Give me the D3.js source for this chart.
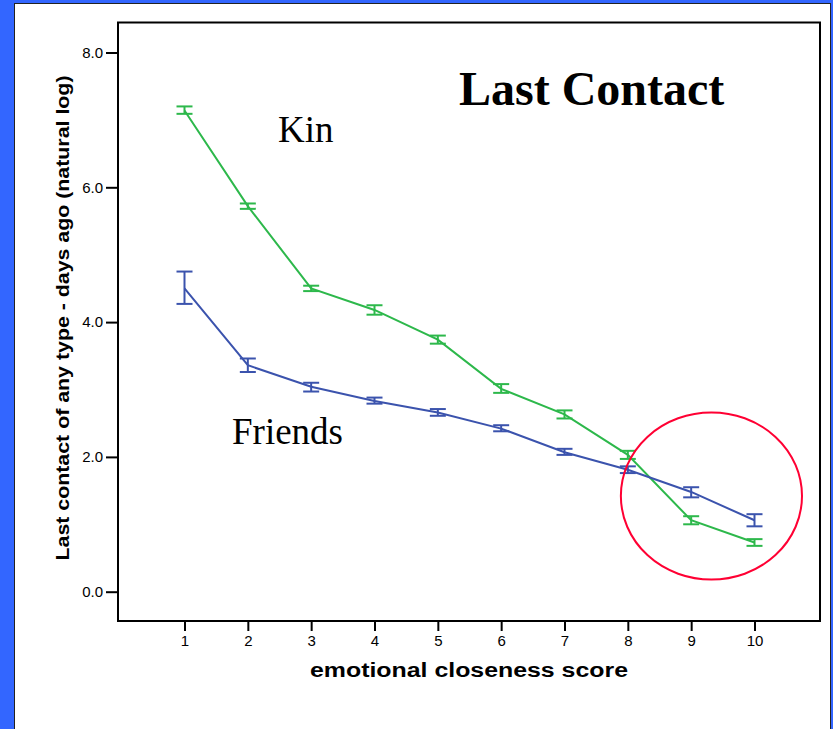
<!DOCTYPE html>
<html>
<head>
<meta charset="utf-8">
<script src="https://cdn.jsdelivr.net/npm/d3@7"></script>
<style>
    body { margin: 0; background: #3366ff; }
    #chart-area { width: 833px; height: 729px; }
</style>
</head>
<body>
<div id="chart-area"></div>
<script>
/* * * * * * * * * * * * * * * * * *
 *      Last contact line chart     *
 * * * * * * * * * * * * * * * * * */

// emotional closeness score (x categories)
let categories = [1, 2, 3, 4, 5, 6, 7, 8, 9, 10];

// Kin: mean and error bar ends (natural log of days)
let kinMean = [7.14, 5.72, 4.50, 4.18, 3.74, 3.01, 2.63, 2.03, 1.06, 0.73];
let kinLow  = [7.09, 5.68, 4.46, 4.11, 3.68, 2.95, 2.57, 1.97, 1.00, 0.68];
let kinHigh = [7.20, 5.76, 4.54, 4.25, 3.80, 3.08, 2.69, 2.09, 1.12, 0.78];

// Friends: mean and error bar ends
let friendsMean = [4.50, 3.36, 3.04, 2.83, 2.66, 2.42, 2.07, 1.81, 1.48, 1.06];
let friendsLow  = [4.27, 3.26, 2.97, 2.79, 2.61, 2.38, 2.03, 1.76, 1.40, 0.97];
let friendsHigh = [4.75, 3.46, 3.10, 2.88, 2.71, 2.47, 2.12, 1.86, 1.55, 1.15];

let yTicks = [0, 2, 4, 6, 8];

// red ring drawn round the crossing (centre and radii in data units)
let ringCentre = [9.32, 1.42];
let ringRadius = [1.43, 1.24];


class LastContactChart {

    constructor(parentElement) {
        this.parentElement = parentElement;
        this.initVis();
    }

    initVis() {
        let vis = this;

        vis.width = 833;
        vis.height = 729;

        vis.svg = d3.select("#" + vis.parentElement).append("svg")
            .attr("width", vis.width)
            .attr("height", vis.height);

        // white slide panel on blue background
        vis.svg.append("rect")
            .attr("x", 14.5)
            .attr("y", 3.5)
            .attr("width", 816)
            .attr("height", 740)
            .attr("fill", "#fff")
            .attr("stroke", "#222")
            .attr("stroke-width", 1);

        // plot frame
        vis.frame = {left: 118, right: 820, top: 22.5, bottom: 621};

        vis.x = d3.scaleLinear()
            .domain([-0.05, 11.05])
            .range([vis.frame.left, vis.frame.right + 1]);
        vis.y = d3.scaleLinear()
            .domain([0, 8])
            .range([591.7, 52.5]);

        vis.g = vis.svg.append("g");

        vis.wrangleData();
    }

    wrangleData() {
        let vis = this;

        vis.series = [
            {name: "Kin", color: "#2db84b",
             values: categories.map((c, i) => ({x: c, m: kinMean[i], lo: kinLow[i], hi: kinHigh[i]}))},
            {name: "Friends", color: "#3b53ad",
             values: categories.map((c, i) => ({x: c, m: friendsMean[i], lo: friendsLow[i], hi: friendsHigh[i]}))}
        ];

        vis.updateVis();
    }

    updateVis() {
        let vis = this;
        let f = vis.frame;

        // Axes
        let xAxis = d3.axisBottom(vis.x)
            .tickValues(categories)
            .tickSize(10)
            .tickSizeOuter(0)
            .tickPadding(4)
            .tickFormat(d3.format("d"));
        let yAxis = d3.axisLeft(vis.y)
            .tickValues(yTicks)
            .tickSize(12)
            .tickSizeOuter(0)
            .tickPadding(3)
            .tickFormat(d3.format(".1f"));

        let gx = vis.g.append("g")
            .attr("transform", `translate(0, ${f.bottom})`)
            .call(xAxis);
        let gy = vis.g.append("g")
            .attr("transform", `translate(${f.left}, 0)`)
            .call(yAxis);

        [gx, gy].forEach((a) => {
            a.select(".domain").remove();
            a.selectAll("line").attr("stroke", "#000").attr("stroke-width", 2);
            a.selectAll("text")
                .attr("fill", "#000")
                .style("font-family", "'Liberation Sans', Arial, sans-serif")
                .style("font-size", "15px");
        });

        // Frame
        vis.g.append("rect")
            .attr("x", f.left)
            .attr("y", f.top)
            .attr("width", f.right - f.left)
            .attr("height", f.bottom - f.top)
            .attr("fill", "none")
            .attr("stroke", "#000")
            .attr("stroke-width", 2);

        // Axis titles
        vis.g.append("text")
            .attr("x", (f.left + f.right) / 2)
            .attr("y", 677)
            .attr("text-anchor", "middle")
            .attr("textLength", 318)
            .attr("lengthAdjust", "spacingAndGlyphs")
            .style("font-family", "'Liberation Sans', Arial, sans-serif")
            .style("font-weight", "bold")
            .style("font-size", "20px")
            .text("emotional closeness score");

        vis.g.append("text")
            .attr("transform", `translate(69, 318) rotate(-90)`)
            .attr("text-anchor", "middle")
            .attr("textLength", 485)
            .attr("lengthAdjust", "spacingAndGlyphs")
            .style("font-family", "'Liberation Sans', Arial, sans-serif")
            .style("font-weight", "bold")
            .style("font-size", "19px")
            .text("Last contact of any type - days ago (natural log)");

        // Lines
        let line = d3.line()
            .x((d) => vis.x(d.x))
            .y((d) => vis.y(d.m));

        let groups = vis.g.selectAll(".series")
            .data(vis.series)
            .enter()
            .append("g")
            .attr("class", "series");

        groups.append("path")
            .attr("d", (d) => line(d.values))
            .attr("fill", "none")
            .attr("stroke", (d) => d.color)
            .attr("stroke-width", 2);

        // Error bars
        groups.each(function(s) {
            let eb = d3.select(this).selectAll(".errbar")
                .data(s.values)
                .enter()
                .append("g")
                .attr("class", "errbar")
                .attr("stroke", s.color)
                .attr("stroke-width", 2);

            eb.append("line")
                .attr("x1", (d) => vis.x(d.x))
                .attr("x2", (d) => vis.x(d.x))
                .attr("y1", (d) => vis.y(d.lo))
                .attr("y2", (d) => vis.y(d.hi));
            eb.append("line")
                .attr("x1", (d) => vis.x(d.x) - 8)
                .attr("x2", (d) => vis.x(d.x) + 8)
                .attr("y1", (d) => vis.y(d.hi))
                .attr("y2", (d) => vis.y(d.hi));
            eb.append("line")
                .attr("x1", (d) => vis.x(d.x) - 8)
                .attr("x2", (d) => vis.x(d.x) + 8)
                .attr("y1", (d) => vis.y(d.lo))
                .attr("y2", (d) => vis.y(d.lo));
        });

        // Red ring
        vis.g.append("ellipse")
            .attr("cx", vis.x(ringCentre[0]))
            .attr("cy", vis.y(ringCentre[1]))
            .attr("rx", vis.x(ringCentre[0] + ringRadius[0]) - vis.x(ringCentre[0]))
            .attr("ry", vis.y(ringCentre[1]) - vis.y(ringCentre[1] + ringRadius[1]))
            .attr("fill", "none")
            .attr("stroke", "#ff0033")
            .attr("stroke-width", 2);

        // Slide labels
        let serif = "'Liberation Serif', 'Times New Roman', serif";
        vis.g.append("text")
            .attr("x", 459)
            .attr("y", 105)
            .style("font-family", serif)
            .style("font-weight", "bold")
            .style("font-size", "48px")
            .text("Last Contact");
        vis.g.append("text")
            .attr("x", 278)
            .attr("y", 142)
            .style("font-family", serif)
            .style("font-size", "37px")
            .text("Kin");
        vis.g.append("text")
            .attr("x", 232)
            .attr("y", 444)
            .style("font-family", serif)
            .style("font-size", "37px")
            .text("Friends");
    }
}

new LastContactChart("chart-area");
</script>
</body>
</html>
